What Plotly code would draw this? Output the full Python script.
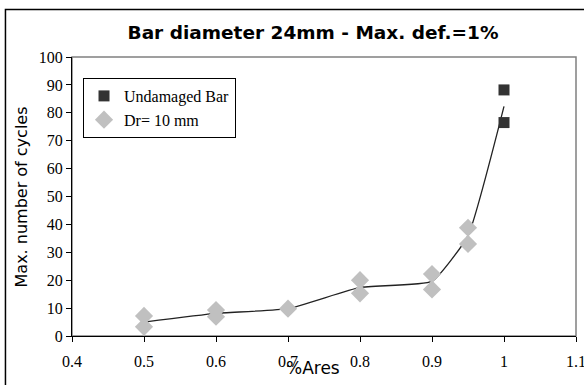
import plotly.graph_objects as go

# Data
dr_x = [0.5, 0.5, 0.6, 0.6, 0.7, 0.8, 0.8, 0.9, 0.9, 0.95, 0.95]
dr_y = [7.2, 3.3, 9.3, 6.9, 9.8, 20.0, 15.3, 22.2, 16.7, 38.8, 33.0]
und_x = [1.0, 1.0]
und_y = [88.2, 76.5]
trend_x = [0.5, 0.6, 0.7, 0.8, 0.9, 0.95, 1.0]
trend_y = [5.0, 8.1, 9.8, 17.4, 19.6, 35.9, 82.3]

x_ticks = [0.4, 0.5, 0.6, 0.7, 0.8, 0.9, 1.0, 1.1]
x_ticktext = ["0.4", "0.5", "0.6", "0.7", "0.8", "0.9", "1", "1.1"]
y_ticks = [0, 10, 20, 30, 40, 50, 60, 70, 80, 90, 100]

W, H = 584, 385
L, R, T, B = 72, 8.3, 57, 49
pw, ph = W - L - R, H - T - B

def px_x(p):
    return (p - L) / pw

def px_y(p):
    return (H - B - p) / ph

serif = "Liberation Serif"
sans = "DejaVu Sans"

fig = go.Figure()
fig.add_trace(go.Scatter(x=trend_x, y=trend_y, mode="lines",
                         line=dict(color="#222222", width=1.3, shape="spline", smoothing=0.4),
                         showlegend=False, hoverinfo="skip"))
fig.add_trace(go.Scatter(x=und_x, y=und_y, mode="markers", name="Undamaged Bar",
                         marker=dict(symbol="square", size=11, color="#333333")))
fig.add_trace(go.Scatter(x=dr_x, y=dr_y, mode="markers", name="Dr= 10 mm",
                         marker=dict(symbol="diamond", size=14, color="#C0C0C0")))

fig.update_layout(
    width=W, height=H,
    margin=dict(l=L, r=R, t=T, b=B, autoexpand=False),
    paper_bgcolor="white", plot_bgcolor="white",
    title=dict(text="<b>Bar diameter 24mm - Max. def.=1%</b>",
               font=dict(family=sans, size=18.5, color="black"),
               x=313 / W, xanchor="center", y=1 - 33 / H, yanchor="middle"),
    xaxis=dict(range=[0.4, 1.1], tickvals=x_ticks, ticktext=x_ticktext,
               showgrid=False, zeroline=False, showline=True, linecolor="black", linewidth=1,
               ticks="outside", ticklen=5, tickcolor="black", ticklabelstandoff=6,
               ticklabeloverflow="allow", automargin=False,
               tickfont=dict(family=serif, size=16, color="black")),
    yaxis=dict(range=[0, 100], tickvals=y_ticks, automargin=False,
               showgrid=False, zeroline=False, showline=True, linecolor="black", linewidth=1,
               ticks="outside", ticklen=5, tickcolor="black",
               tickfont=dict(family=serif, size=16, color="black")),
    legend=dict(x=px_x(83), y=px_y(78), xanchor="left", yanchor="top",
                bgcolor="white", bordercolor="black", borderwidth=1,
                font=dict(family=serif, size=16, color="black"),
                tracegroupgap=0, itemwidth=30),
    shapes=[
        dict(type="rect", xref="paper", yref="paper", x0=0, x1=1, y0=0, y1=1,
             line=dict(color="#808080", width=1.5), layer="below"),
        dict(type="rect", xref="paper", yref="paper",
             x0=px_x(5.5), x1=px_x(600), y0=px_y(400), y1=px_y(9.5),
             line=dict(color="black", width=1.5), layer="below"),
    ],
    annotations=[
        dict(text="Max. number of cycles", xref="paper", yref="paper",
             x=px_x(22), y=0.5, xanchor="center", yanchor="middle", textangle=-90,
             showarrow=False, font=dict(family=sans, size=16, color="black")),
        dict(text="%Ares", xref="paper", yref="paper",
             x=px_x(313), y=px_y(368), xanchor="center", yanchor="middle",
             showarrow=False, font=dict(family=sans, size=17, color="black")),
    ],
)

fig.write_html("out.html", config={"displayModeBar": False},
               post_script="document.body.style.margin='0';document.body.style.overflow='hidden';")
